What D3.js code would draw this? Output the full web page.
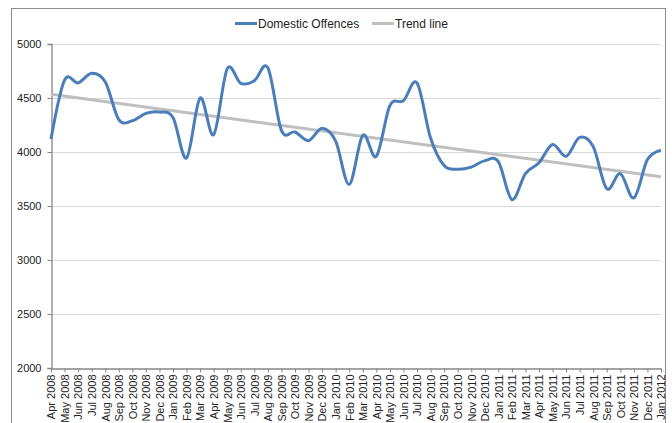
<!DOCTYPE html>
<html>
<head>
<meta charset="utf-8">
<script src="https://cdnjs.cloudflare.com/ajax/libs/d3/7.8.5/d3.min.js"></script>
<style>
  html, body { margin: 0; padding: 0; background: #fff; }
  svg { display: block; font-family: "Liberation Sans", Arial, sans-serif; }
</style>
</head>
<body>
<svg id="chart" width="672" height="423"></svg>
<script>
// Monthly categories, April 2008 to January 2012
const months = [
  "Apr 2008","May 2008","Jun 2008","Jul 2008","Aug 2008","Sep 2008","Oct 2008","Nov 2008","Dec 2008",
  "Jan 2009","Feb 2009","Mar 2009","Apr 2009","May 2009","Jun 2009","Jul 2009","Aug 2009","Sep 2009",
  "Oct 2009","Nov 2009","Dec 2009","Jan 2010","Feb 2010","Mar 2010","Apr 2010","May 2010","Jun 2010",
  "Jul 2010","Aug 2010","Sep 2010","Oct 2010","Nov 2010","Dec 2010","Jan 2011","Feb 2011","Mar 2011",
  "Apr 2011","May 2011","Jun 2011","Jul 2011","Aug 2011","Sep 2011","Oct 2011","Nov 2011","Dec 2011",
  "Jan 2012"
];

// Domestic offences recorded per month
const offences = [
  4120, 4665, 4640, 4730, 4650, 4300, 4290, 4358, 4370,
  4320, 3945, 4500, 4160, 4770, 4635, 4660, 4780, 4200,
  4185, 4105, 4220, 4100, 3700, 4155, 3960, 4430, 4475,
  4640, 4130, 3875, 3840, 3860, 3920, 3910, 3560, 3800,
  3900, 4070, 3960, 4135, 4050, 3660, 3800, 3575, 3930,
  4015
];

// Linear trend: value at the first and the last month
const trendMonths = ["Apr 2008", "Jan 2012"];
const trendValues = [4534, 3771];

const yTicks = [2000, 2500, 3000, 3500, 4000, 4500, 5000];

const seriesNames = ["Domestic Offences", "Trend line"];
const seriesColors = ["#4a7ebb", "#bfbfbf"];

const svg = d3.select("#chart");

// outer chart frame
svg.append("rect")
  .attr("x", 11.5).attr("y", 8.5)
  .attr("width", 654).attr("height", 430)
  .attr("fill", "#fff")
  .attr("stroke", "#8c8c8c")
  .attr("stroke-width", 1);

const plot = { left: 51, right: 661, top: 44, bottom: 368 };

const x = d3.scalePoint().domain(months).range([plot.left, plot.right]);
const y = d3.scaleLinear().domain([2000, 5000]).range([plot.bottom, plot.top]);

// horizontal gridlines
svg.append("g")
  .selectAll("line")
  .data(yTicks.filter(d => d > 2000))
  .join("line")
  .attr("x1", plot.left).attr("x2", plot.right)
  .attr("y1", d => Math.round(y(d)) + 0.5)
  .attr("y2", d => Math.round(y(d)) + 0.5)
  .attr("stroke", "#d9d9d9")
  .attr("stroke-width", 1);

// y axis
const yAxis = svg.append("g")
  .attr("transform", `translate(${plot.left + 0.5},0)`)
  .call(d3.axisLeft(y).tickValues(yTicks).tickSize(4).tickPadding(6).tickFormat(d3.format("d")));
yAxis.select(".domain").attr("stroke", "#868686").attr("stroke-width", 1.3);
yAxis.selectAll(".tick line").attr("stroke", "#868686");
yAxis.selectAll(".tick text")
  .attr("fill", "#222")
  .style("font-size", "11px");

// x axis
const xAxis = svg.append("g")
  .attr("transform", `translate(0,${plot.bottom + 0.5})`)
  .call(d3.axisBottom(x).tickSize(4).tickSizeOuter(0));
xAxis.select(".domain").attr("stroke", "#868686").attr("stroke-width", 1.3);
xAxis.selectAll(".tick line").attr("stroke", "#868686");
xAxis.selectAll(".tick text")
  .attr("fill", "#222")
  .style("font-size", "11px")
  .attr("text-anchor", "end")
  .attr("dy", "0.35em")
  .attr("transform", "translate(0,4) rotate(-90)")
  .attr("x", -2)
  .attr("y", 0);

// trend line
svg.append("path")
  .datum(trendMonths.map((m, i) => [m, trendValues[i]]))
  .attr("fill", "none")
  .attr("stroke", seriesColors[1])
  .attr("stroke-width", 3)
  .attr("d", d3.line().x(d => x(d[0])).y(d => y(d[1])));

// smoothed monthly series
svg.append("path")
  .datum(months.map((m, i) => [m, offences[i]]))
  .attr("fill", "none")
  .attr("stroke", seriesColors[0])
  .attr("stroke-width", 3)
  .attr("stroke-linejoin", "round")
  .attr("d", d3.line().x(d => x(d[0])).y(d => y(d[1])).curve(d3.curveCardinal.tension(0)));

// legend
const legendItems = [
  { name: seriesNames[0], color: seriesColors[0], x: 235 },
  { name: seriesNames[1], color: seriesColors[1], x: 372 }
];
const lg = svg.append("g");
legendItems.forEach(it => {
  lg.append("line")
    .attr("x1", it.x).attr("x2", it.x + 22)
    .attr("y1", 23.5).attr("y2", 23.5)
    .attr("stroke", it.color).attr("stroke-width", 3);
  lg.append("text")
    .attr("x", it.x + 23).attr("y", 28)
    .attr("fill", "#222")
    .style("font-size", "12px")
    .text(it.name);
});
</script>
</body>
</html>
